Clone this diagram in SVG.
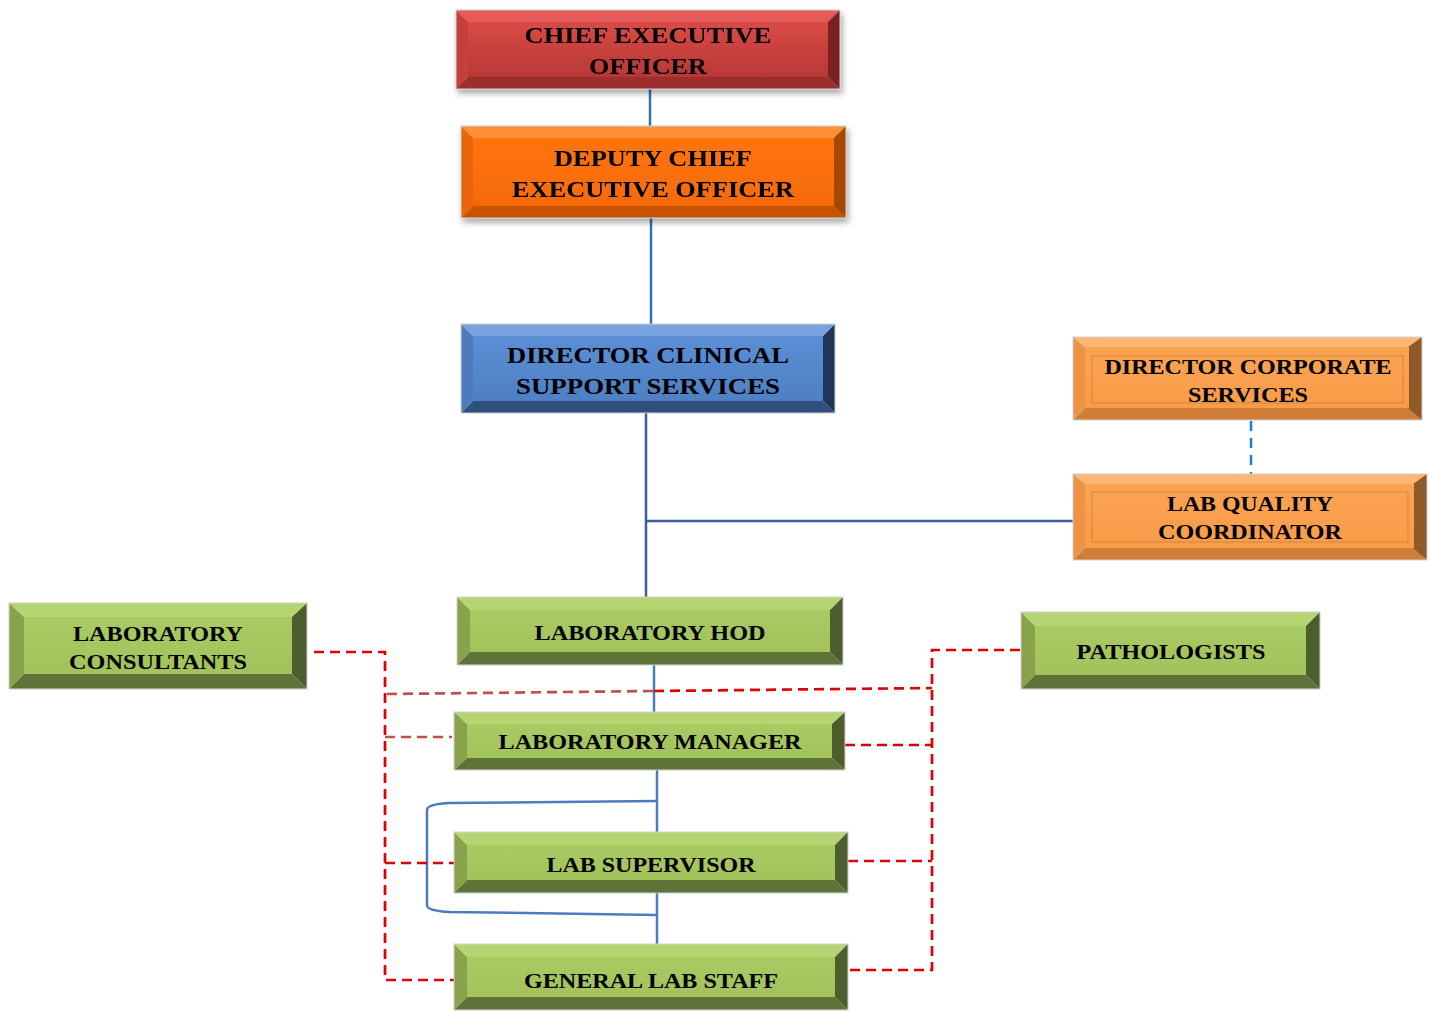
<svg xmlns="http://www.w3.org/2000/svg" width="1432" height="1011" viewBox="0 0 1432 1011">
<defs>
<filter id="sh" x="-10%" y="-20%" width="120%" height="150%">
<feGaussianBlur in="SourceAlpha" stdDeviation="3"/>
<feOffset dx="2" dy="4" result="b"/>
<feComponentTransfer><feFuncA type="linear" slope="0.35"/></feComponentTransfer>
<feMerge><feMergeNode/><feMergeNode in="SourceGraphic"/></feMerge>
</filter>
<linearGradient id="gRed" x1="0" y1="0" x2="0" y2="1"><stop offset="0" stop-color="#d94a47"/><stop offset="1" stop-color="#b83836"/></linearGradient>
<linearGradient id="gOr" x1="0" y1="0" x2="0" y2="1"><stop offset="0" stop-color="#ff7410"/><stop offset="1" stop-color="#f56a06"/></linearGradient>
<linearGradient id="gBl" x1="0" y1="0" x2="0" y2="1"><stop offset="0" stop-color="#5b8ed4"/><stop offset="1" stop-color="#4f80c4"/></linearGradient>
<linearGradient id="gLo" x1="0" y1="0" x2="0" y2="1"><stop offset="0" stop-color="#fba353"/><stop offset="1" stop-color="#f89c48"/></linearGradient>
<linearGradient id="gGr" x1="0" y1="0" x2="0" y2="1"><stop offset="0" stop-color="#a9cb63"/><stop offset="1" stop-color="#a2c25c"/></linearGradient>
</defs>
<style>
text{font-family:"Liberation Serif","Times New Roman",serif;font-weight:bold;fill:#000;text-anchor:middle}
.big{font-size:24px}
.sm{font-size:22px}
.edge{stroke:#d0d0d0;stroke-width:1;fill:none}
.red .t{fill:#e35a57}.red .l{fill:#c4403d}.red .b{fill:#9c2f2d}.red .r{fill:#7a2321}.red .f{fill:url(#gRed)}
.or .t{fill:#ff9038}.or .l{fill:#eb6508}.or .b{fill:#c75300}.or .r{fill:#a84700}.or .f{fill:url(#gOr)}
.bl .t{fill:#79a3de}.bl .l{fill:#4d7bbb}.bl .b{fill:#2f4f7d}.bl .r{fill:#1f3658}.bl .f{fill:url(#gBl)}
.lo .t{fill:#fdb673}.lo .l{fill:#ec9345}.lo .b{fill:#d07e37}.lo .r{fill:#8f5a28}.lo .f{fill:url(#gLo)}
.lo .in{fill:none;stroke:#d98a42;stroke-width:1.2}
.gr .t{fill:#b5d472}.gr .l{fill:#88a34c}.gr .b{fill:#5f7339}.gr .r{fill:#4c5e2e}.gr .f{fill:url(#gGr)}
.solid{fill:none;stroke:#2e75b6;stroke-width:2.5}
.solid2{fill:none;stroke:#3b5f94;stroke-width:2.5}
.solid3{fill:none;stroke:#4a7cc0;stroke-width:2.5}
.bdash{fill:none;stroke:#1f7dd0;stroke-width:2.5;stroke-dasharray:10 7}
.rd{fill:none;stroke:#e00000;stroke-width:2.7;stroke-dasharray:10 6}
.brd{fill:none;stroke:#c0504d;stroke-width:2.7;stroke-dasharray:10 6}
</style>

<g id="connectors">
<path class="solid" d="M650,89 V126"/>
<path class="solid" d="M651,218 V324"/>
<path class="solid2" d="M646,413 V597"/>
<path class="solid2" d="M646,521 H1075"/>
<path class="bdash" d="M1251,421 V474"/>
<path class="solid3" d="M654,665 V712"/>
<path class="solid3" d="M657,770 V832"/>
<path class="solid3" d="M657,893 V944"/>
<path class="solid3" d="M657,801 L450,803 Q427,804 427,810 V905 Q427,911 450,912 L657,915"/>
<path class="rd" d="M314,652 H385 V980 H454"/>
<path class="brd" d="M385,737 H452"/>
<path class="rd" d="M385,863 H454"/>
<path class="brd" d="M387,694 L654,691"/>
<path class="rd" d="M654,691 L932,688"/>
<path class="rd" d="M1020,650 H932 V970 H848"/>
<path class="rd" d="M845,745 H932"/>
<path class="rd" d="M848,861 H932"/>
</g>

<g id="ceo" class="red" filter="url(#sh)">
<path class="t" d="M456,10 H840 L828,22 H468 Z"/>
<path class="l" d="M456,10 L468,22 V77 L456,89 Z"/>
<path class="b" d="M456,89 H840 L828,77 H468 Z"/>
<path class="r" d="M840,10 L828,22 V77 L840,89 Z"/>
<rect class="f" x="468" y="22" width="360" height="55"/>
<rect class="edge" x="456" y="10" width="384" height="79"/>
<text class="big" x="648" y="43" textLength="247" lengthAdjust="spacingAndGlyphs">CHIEF EXECUTIVE</text>
<text class="big" x="648" y="74" textLength="118" lengthAdjust="spacingAndGlyphs">OFFICER</text>
</g>

<g id="deputy" class="or" filter="url(#sh)">
<path class="t" d="M461,126 H846 L834,138 H473 Z"/>
<path class="l" d="M461,126 L473,138 V206 L461,218 Z"/>
<path class="b" d="M461,218 H846 L834,206 H473 Z"/>
<path class="r" d="M846,126 L834,138 V206 L846,218 Z"/>
<rect class="f" x="473" y="138" width="361" height="68"/>
<rect class="edge" x="461" y="126" width="385" height="92"/>
<text class="big" x="653" y="166" textLength="198" lengthAdjust="spacingAndGlyphs">DEPUTY CHIEF</text>
<text class="big" x="653" y="197" textLength="282" lengthAdjust="spacingAndGlyphs">EXECUTIVE OFFICER</text>
</g>

<g id="director-clinical" class="bl">
<path class="t" d="M461,324 H835 L823,336 H473 Z"/>
<path class="l" d="M461,324 L473,336 V401 L461,413 Z"/>
<path class="b" d="M461,413 H835 L823,401 H473 Z"/>
<path class="r" d="M835,324 L823,336 V401 L835,413 Z"/>
<rect class="f" x="473" y="336" width="350" height="65"/>
<rect class="edge" x="461" y="324" width="374" height="89"/>
<text class="big" x="648" y="363" textLength="282" lengthAdjust="spacingAndGlyphs">DIRECTOR CLINICAL</text>
<text class="big" x="648" y="394" textLength="264" lengthAdjust="spacingAndGlyphs">SUPPORT SERVICES</text>
</g>

<g id="director-corporate" class="lo">
<path class="t" d="M1073,337 H1422 L1410,347 H1085 Z"/>
<path class="l" d="M1073,337 L1085,347 V408 L1073,420 Z"/>
<path class="b" d="M1073,420 H1422 L1410,408 H1085 Z"/>
<path class="r" d="M1422,337 L1408,347 V408 L1422,420 Z"/>
<rect class="f" x="1085" y="347" width="324" height="61"/>
<rect class="in" x="1092" y="356" width="311" height="47"/>
<rect class="edge" x="1073" y="337" width="349" height="83"/>
<text class="sm" x="1248" y="374" textLength="287" lengthAdjust="spacingAndGlyphs">DIRECTOR CORPORATE</text>
<text class="sm" x="1248" y="402" textLength="120" lengthAdjust="spacingAndGlyphs">SERVICES</text>
</g>

<g id="lab-quality" class="lo">
<path class="t" d="M1073,474 H1427 L1415,484 H1085 Z"/>
<path class="l" d="M1073,474 L1085,484 V548 L1073,560 Z"/>
<path class="b" d="M1073,560 H1427 L1415,548 H1085 Z"/>
<path class="r" d="M1427,474 L1413,484 V548 L1427,560 Z"/>
<rect class="f" x="1085" y="484" width="329" height="64"/>
<rect class="in" x="1092" y="492" width="316" height="50"/>
<rect class="edge" x="1073" y="474" width="354" height="86"/>
<text class="sm" x="1250" y="511" textLength="166" lengthAdjust="spacingAndGlyphs">LAB QUALITY</text>
<text class="sm" x="1250" y="539" textLength="184" lengthAdjust="spacingAndGlyphs">COORDINATOR</text>
</g>

<g id="lab-consultants" class="gr">
<path class="t" d="M9,603 H307 L292,617 H24 Z"/>
<path class="l" d="M9,603 L24,617 V674 L9,689 Z"/>
<path class="b" d="M9,689 H307 L292,674 H24 Z"/>
<path class="r" d="M307,603 L292,617 V674 L307,689 Z"/>
<rect class="f" x="24" y="617" width="268" height="57"/>
<rect class="edge" x="9" y="603" width="298" height="86"/>
<text class="sm" x="158" y="641" textLength="170" lengthAdjust="spacingAndGlyphs">LABORATORY</text>
<text class="sm" x="158" y="669" textLength="178" lengthAdjust="spacingAndGlyphs">CONSULTANTS</text>
</g>

<g id="lab-hod" class="gr">
<path class="t" d="M457,597 H843 L830,610 H470 Z"/>
<path class="l" d="M457,597 L470,610 V652 L457,665 Z"/>
<path class="b" d="M457,665 H843 L830,652 H470 Z"/>
<path class="r" d="M843,597 L830,610 V652 L843,665 Z"/>
<rect class="f" x="470" y="610" width="360" height="42"/>
<rect class="edge" x="457" y="597" width="386" height="68"/>
<text class="sm" x="650" y="640" textLength="231" lengthAdjust="spacingAndGlyphs">LABORATORY HOD</text>
</g>

<g id="lab-manager" class="gr">
<path class="t" d="M454,712 H845 L832,724 H467 Z"/>
<path class="l" d="M454,712 L467,724 V758 L454,770 Z"/>
<path class="b" d="M454,770 H845 L832,758 H467 Z"/>
<path class="r" d="M845,712 L832,724 V758 L845,770 Z"/>
<rect class="f" x="467" y="724" width="365" height="34"/>
<rect class="edge" x="454" y="712" width="391" height="58"/>
<text class="sm" x="650" y="749" textLength="303" lengthAdjust="spacingAndGlyphs">LABORATORY MANAGER</text>
</g>

<g id="lab-supervisor" class="gr">
<path class="t" d="M454,832 H848 L835,845 H467 Z"/>
<path class="l" d="M454,832 L467,845 V880 L454,893 Z"/>
<path class="b" d="M454,893 H848 L835,880 H467 Z"/>
<path class="r" d="M848,832 L835,845 V880 L848,893 Z"/>
<rect class="f" x="467" y="845" width="368" height="35"/>
<rect class="edge" x="454" y="832" width="394" height="61"/>
<text class="sm" x="651" y="872" textLength="209" lengthAdjust="spacingAndGlyphs">LAB SUPERVISOR</text>
</g>

<g id="general-lab-staff" class="gr">
<path class="t" d="M454,944 H848 L835,957 H467 Z"/>
<path class="l" d="M454,944 L467,957 V997 L454,1010 Z"/>
<path class="b" d="M454,1010 H848 L835,997 H467 Z"/>
<path class="r" d="M848,944 L835,957 V997 L848,1010 Z"/>
<rect class="f" x="467" y="957" width="368" height="40"/>
<rect class="edge" x="454" y="944" width="394" height="66"/>
<text class="sm" x="651" y="988" textLength="254" lengthAdjust="spacingAndGlyphs">GENERAL LAB STAFF</text>
</g>

<g id="pathologists" class="gr">
<path class="t" d="M1021,612 H1320 L1306,626 H1035 Z"/>
<path class="l" d="M1021,612 L1035,626 V675 L1021,689 Z"/>
<path class="b" d="M1021,689 H1320 L1306,675 H1035 Z"/>
<path class="r" d="M1320,612 L1306,626 V675 L1320,689 Z"/>
<rect class="f" x="1035" y="626" width="271" height="49"/>
<rect class="edge" x="1021" y="612" width="299" height="77"/>
<text class="sm" x="1171" y="659" textLength="189" lengthAdjust="spacingAndGlyphs">PATHOLOGISTS</text>
</g>
</svg>
